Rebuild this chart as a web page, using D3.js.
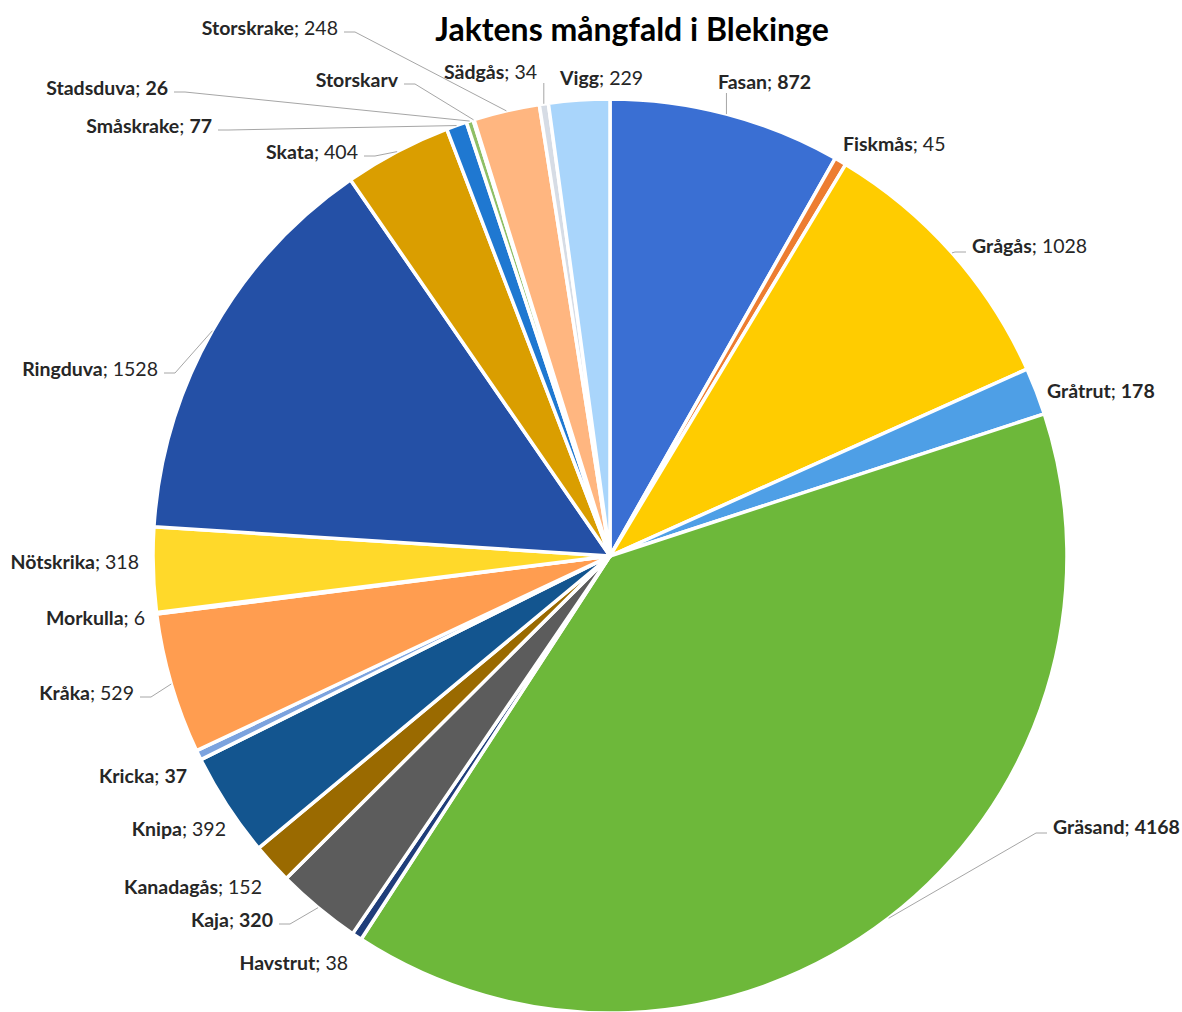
<!DOCTYPE html>
<html>
<head>
<meta charset="utf-8">
<script src="https://cdn.jsdelivr.net/npm/d3@7"></script>
<style>
  body { margin: 0; background: #fff; }
  text { font-family: Lato, "Open Sans", sans-serif; fill: #262626; }
</style>
</head>
<body>
<script>
var width = 1182;
var height = 1012;

// data, alphabetical as in the sheet
var species = ["Fasan", "Fiskmås", "Grågås", "Gråtrut", "Gräsand", "Havstrut", "Kaja",
  "Kanadagås", "Knipa", "Kricka", "Kråka", "Morkulla", "Nötskrika", "Ringduva", "Skata",
  "Småskrake", "Stadsduva", "Storskarv", "Storskrake", "Sädgås", "Vigg"];
var counts = [872, 45, 1028, 178, 4168, 38, 320, 152, 392, 37, 529, 6, 318, 1528, 404,
  77, 26, 4, 248, 34, 229];
var showValue = [true, true, true, true, true, true, true, true, true, true, true, true,
  true, true, true, true, true, false, true, true, true];
var boldValue = ["Fasan", "Gråtrut", "Gräsand", "Kaja", "Kricka", "Småskrake", "Stadsduva"];
var colors = ["#3a6fd3", "#ed7d31", "#ffcc00", "#4e9fe6", "#6db83a", "#1f3d7a", "#5c5c5c",
  "#9a6a00", "#13558f", "#7ca3de", "#ff9d50", "#a5a5a5", "#ffd92a", "#2450a6", "#da9e00",
  "#1f78d1", "#8fbf66", "#4e7f2e", "#ffb680", "#d6dce5", "#a9d5fb"];

// label placement: [x, y, anchor, leader]
var labelLayout = {
  "Fasan": [718, 82, "start", "v"],
  "Fiskmås": [843, 144, "start", ""],
  "Grågås": [972, 246, "start", "h"],
  "Gråtrut": [1047, 391, "start", ""],
  "Gräsand": [1053, 827, "start", "h"],
  "Havstrut": [348, 963, "end", ""],
  "Kaja": [273, 920, "end", "h"],
  "Kanadagås": [262, 887, "end", ""],
  "Knipa": [226, 829, "end", ""],
  "Kricka": [187, 776, "end", ""],
  "Kråka": [134, 693, "end", "h"],
  "Morkulla": [145, 618, "end", ""],
  "Nötskrika": [139, 562, "end", ""],
  "Ringduva": [158, 369, "end", "h"],
  "Skata": [358, 152, "end", "h"],
  "Småskrake": [212, 126, "end", "h"],
  "Stadsduva": [168, 88, "end", "h"],
  "Storskarv": [398, 80, "end", "h"],
  "Storskrake": [338, 28, "end", "h"],
  "Sädgås": [537, 72, "end", "v"],
  "Vigg": [560, 78, "start", ""]
};

var cx = 610, cy = 556, radius = 457;

var rows = species.map(function(s, i) {
  return {name: s, value: counts[i], color: colors[i], show: showValue[i]};
});

var svg = d3.select("body").append("svg")
  .attr("width", width).attr("height", height);

svg.append("text")
  .attr("x", 632).attr("y", 33)
  .attr("text-anchor", "middle")
  .attr("dominant-baseline", "middle")
  .style("font-size", "32px").style("font-weight", "bold")
  .style("fill", "#000")
  .text("Jaktens mångfald i Blekinge");

var pie = d3.pie().sort(null).value(function(d) { return d.value; });
var arc = d3.arc().innerRadius(0).outerRadius(radius);
var arcs = pie(rows);

var g = svg.append("g").attr("transform", "translate(" + cx + "," + cy + ")");

g.selectAll("path").data(arcs).enter().append("path")
  .attr("d", arc)
  .attr("fill", function(d) { return d.data.color; })
  .attr("stroke", "#fff")
  .attr("stroke-width", 3.5)
  .attr("stroke-linejoin", "round");

// leader lines
var edgePoint = function(d) {
  var a = (d.startAngle + d.endAngle) / 2;
  return [cx + radius * Math.sin(a), cy - radius * Math.cos(a)];
};

arcs.forEach(function(d) {
  var lay = labelLayout[d.data.name];
  if (!lay[3]) return;
  var p = edgePoint(d);
  var pts;
  if (lay[3] == "v") {
    pts = [[p[0], lay[1] + 11], p];
  } else if (lay[2] == "end") {
    pts = [[lay[0] + 6, lay[1] + 4], [lay[0] + 17, lay[1] + 4], p];
  } else {
    pts = [[lay[0] - 6, lay[1] + 6], [lay[0] - 17, lay[1] + 6], p];
  }
  svg.append("path")
    .attr("d", d3.line()(pts))
    .attr("fill", "none")
    .attr("stroke", "#a6a6a6")
    .attr("stroke-width", 1);
});

// labels
arcs.forEach(function(d) {
  var lay = labelLayout[d.data.name];
  var t = svg.append("text")
    .attr("x", lay[0]).attr("y", lay[1] + 2)
    .attr("text-anchor", lay[2])
    .attr("dominant-baseline", "middle")
    .style("font-size", "19.5px");
  t.append("tspan").style("font-weight", "bold").text(d.data.name);
  if (d.data.show) {
    t.append("tspan").text("; ");
    t.append("tspan")
      .style("font-weight", boldValue.indexOf(d.data.name) >= 0 ? "bold" : "normal")
      .text(d.data.value);
  }
});
</script>
</body>
</html>
